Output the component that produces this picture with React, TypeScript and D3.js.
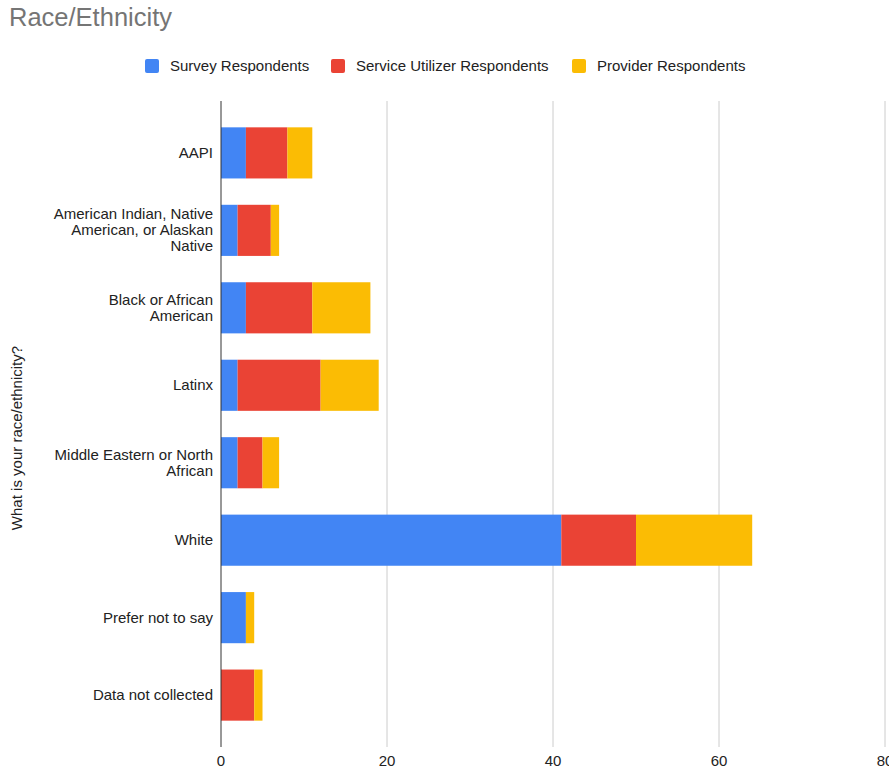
import React from "react";
import * as d3 from "d3";

const categories = [
  "AAPI",
  "American Indian, Native American, or Alaskan Native",
  "Black or African American",
  "Latinx",
  "Middle Eastern or North African",
  "White",
  "Prefer not to say",
  "Data not collected",
];
const categoryLines = [
  ["AAPI"],
  ["American Indian, Native", "American, or Alaskan", "Native"],
  ["Black or African", "American"],
  ["Latinx"],
  ["Middle Eastern or North", "African"],
  ["White"],
  ["Prefer not to say"],
  ["Data not collected"],
];
const seriesNames = ["Survey Respondents", "Service Utilizer Respondents", "Provider Respondents"];
const surveyValues = [3, 2, 3, 2, 2, 41, 3, 0];
const serviceValues = [5, 4, 8, 10, 3, 9, 0, 4];
const providerValues = [3, 1, 7, 7, 2, 14, 1, 1];
const xTicks = [0, 20, 40, 60, 80];
const colors = ["#4285F4", "#EA4335", "#FBBC04"];

const W = 889;
const H = 773;
const FONT = "'Liberation Sans', Arial, Helvetica, sans-serif";

export default function App() {
  const x = d3.scaleLinear().domain([0, 80]).range([221, 885]);
  const y = d3.scaleBand<string>().domain(categories).range([101, 747]).padding(0.34);

  const rows = categories.map((c, i) => ({
    cat: c,
    v0: surveyValues[i],
    v1: serviceValues[i],
    v2: providerValues[i],
  }));
  const stack = d3.stack<any>().keys(["v0", "v1", "v2"]);
  const series = stack(rows);

  const legendItems = [
    { x: 145, label: seriesNames[0], color: colors[0] },
    { x: 331, label: seriesNames[1], color: colors[1] },
    { x: 572, label: seriesNames[2], color: colors[2] },
  ];

  return (
    <svg width={W} height={H} style={{ position: "absolute", left: 0, top: 0, background: "#fff" }} fontFamily={FONT}>
      <rect x={0} y={0} width={W} height={H} fill="#fff" />
      <text x={9} y={26} fontSize={25.5} fill="#757575">Race/Ethnicity</text>

      {legendItems.map((d) => (
        <g key={d.label}>
          <rect x={d.x} y={59} width={14} height={14} rx={2} fill={d.color} />
          <text x={d.x + 25} y={71} fontSize={15} fill="#222">{d.label}</text>
        </g>
      ))}

      {xTicks.map((t) => (
        <g key={t}>
          {t !== 0 && (
            <line x1={x(t)} x2={x(t)} y1={101} y2={747} stroke="#cccccc" strokeWidth={1} />
          )}
          <text x={x(t)} y={766} fontSize={15} fill="#222" textAnchor="middle">{t}</text>
        </g>
      ))}

      {series.map((s, si) => (
        <g key={si} fill={colors[si]}>
          {s.map((d, i) => {
            const w = x(d[1]) - x(d[0]);
            if (w <= 0) return null;
            return (
              <rect
                key={i}
                x={x(d[0])}
                y={y(categories[i])}
                width={w}
                height={y.bandwidth()}
              />
            );
          })}
        </g>
      ))}

      <line x1={x(0)} x2={x(0)} y1={101} y2={747} stroke="#333" strokeWidth={1} />

      {categories.map((c, i) => {
        const lines = categoryLines[i];
        const cy = (y(c) as number) + y.bandwidth() / 2;
        const lh = 16;
        const start = cy - ((lines.length - 1) * lh) / 2 + 5;
        return (
          <text key={c} fontSize={15} fill="#222" textAnchor="end">
            {lines.map((l, j) => (
              <tspan key={j} x={213} y={start + j * lh}>{l}</tspan>
            ))}
          </text>
        );
      })}

      <text
        transform={`translate(22, 438) rotate(-90)`}
        fontSize={15}
        fill="#222"
        textAnchor="middle"
      >
        What is your race/ethnicity?
      </text>
    </svg>
  );
}
